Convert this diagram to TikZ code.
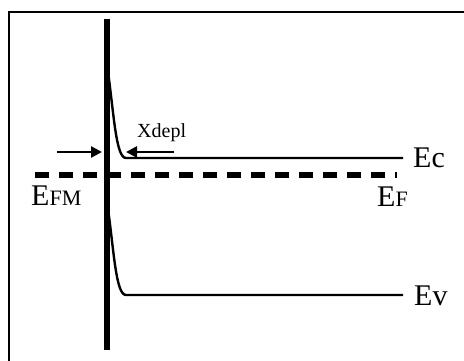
\documentclass[tikz,border=0pt]{standalone}
\usepackage{fontspec}
\setmainfont{Liberation Serif}
\usepackage{tikz}
\usetikzlibrary{arrows.meta}

\tikzset{
  big/.style={inner sep=0pt,anchor=base west,font=\fontsize{30}{32}\selectfont},
  band/.style={line width=2.4pt},
  depl/.style={line width=2.6pt,-{Triangle[length=11pt,width=11pt]}}
}
\newcommand{\smc}[1]{{\fontsize{22}{24}\selectfont #1}}

\begin{document}
\begin{tikzpicture}[x=1pt,y=-1pt]
\useasboundingbox (0,0) rectangle (464,360);
\clip (0,0) rectangle (464,360);
% Frame
\draw[line width=2.2pt] (9,12) rectangle (480,380);

% Metal contact
\draw[line width=6pt] (107,19) -- (107,350);

% Bands
\draw[band] (108,72) .. controls (114,115) and (116,158) .. (126,158) -- (403,158);
\draw[band] (108,209) .. controls (114,252) and (116,295) .. (126,295) -- (403,295);

% Fermi level
\draw[line width=6pt,dash pattern=on 14pt off 10pt] (35,175) -- (397,175);

% Labels
\node[big] (ec) at (413,167) {Ec};
\node[big] (ev) at (414,305) {Ev};
\node[big] (efm) at (31,205) {E\smc{FM}};
\node[big] (ef) at (377,206) {E\smc{F}};
\node[inner sep=0pt,anchor=base west,font=\fontsize{20}{22}\selectfont] (xdepl) at (137,137) {Xdepl};

% Depletion width arrows
\coordinate (la) at (57,152);
\coordinate (lb) at (102,152);
\coordinate (ra) at (174,152);
\coordinate (rb) at (126,152);
\draw[depl] (la) -- (lb);
\draw[depl] (ra) -- (rb);
\end{tikzpicture}
\end{document}
